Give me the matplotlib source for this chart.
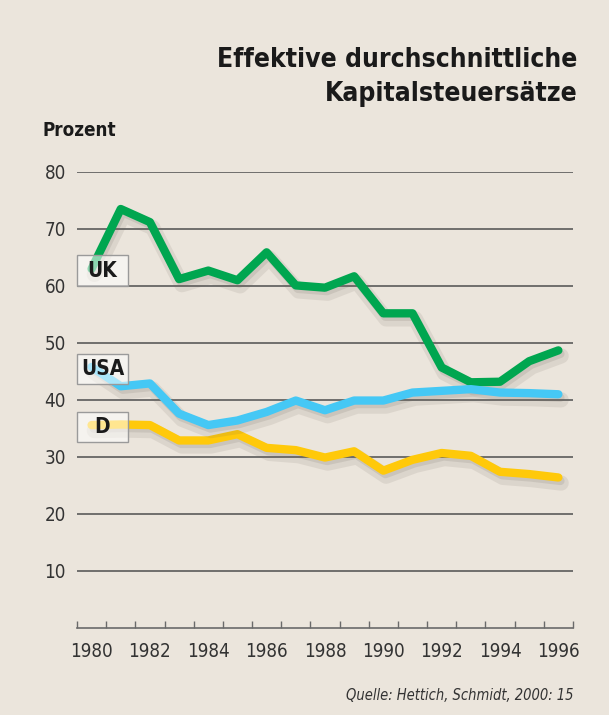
import matplotlib.pyplot as plt
import matplotlib.patheffects as pe
from matplotlib.patches import Rectangle

years = list(range(1980, 1997))
uk = [63.0, 73.5, 71.2, 61.2, 62.7, 61.0, 65.9, 60.1, 59.7, 61.7, 55.2, 55.2, 45.7, 43.1, 43.2, 46.8, 48.7]
usa = [45.8, 42.4, 42.9, 37.6, 35.6, 36.4, 37.9, 39.9, 38.2, 39.9, 39.9, 41.3, 41.6, 41.9, 41.3, 41.2, 41.0]
de = [35.6, 35.7, 35.6, 32.9, 32.9, 34.0, 31.6, 31.2, 29.9, 31.0, 27.6, 29.5, 30.7, 30.2, 27.4, 27.0, 26.4]
series_names = ['UK', 'USA', 'D']
series_colors = ['#00a650', '#45c8f5', '#ffc90a']
yticks = [10, 20, 30, 40, 50, 60, 70, 80]
xlabels = list(range(1980, 1997, 2))

bg = '#ebe5dc'
fam = 'DejaVu Sans'
cond = 'condensed'

fig = plt.figure(figsize=(6.09, 7.15), dpi=100)
fig.patch.set_facecolor(bg)
ax = fig.add_axes([0.1264, 0.1217, 0.8144, 0.6378])
ax.set_facecolor(bg)

for y in yticks:
    ax.axhline(y, color='#5a5a5a', lw=1.2, zorder=1)

# soft drop shadow under the lines
shadow = [pe.SimpleLineShadow(offset=(2, -4), shadow_color='#6d655c', alpha=0.12, linewidth=11),
          pe.SimpleLineShadow(offset=(1.5, -2.5), shadow_color='#6d655c', alpha=0.15),
          pe.Normal()]

# draw order: UK, D, USA
for vals, col, z in [(uk, series_colors[0], 3), (de, series_colors[2], 3), (usa, series_colors[1], 4)]:
    ax.plot(years, vals, color=col, lw=6, solid_capstyle='round', solid_joinstyle='round',
            zorder=z, path_effects=shadow, clip_on=False)

# label boxes at series start
for name, vals in zip(series_names, [uk, usa, de]):
    cy = vals[0] - 0.3
    ax.add_patch(Rectangle((1979.49, cy - 2.65), 1.77, 5.3, facecolor='white', alpha=0.55,
                           edgecolor='none', zorder=6, clip_on=False))
    ax.add_patch(Rectangle((1979.49, cy - 2.65), 1.77, 5.3, facecolor='none',
                           edgecolor='#9a9a9a', lw=1, zorder=7, clip_on=False))
    ax.text(1980.375, cy, name, ha='center', va='center', fontsize=15, fontweight='bold',
            family=fam, stretch=cond, color='#1a1a1a', zorder=8)

ax.set_xlim(1979.5, 1996.5)
ax.set_ylim(0, 80)
for s in ['top', 'right', 'left']:
    ax.spines[s].set_visible(False)
ax.spines['bottom'].set_color('#6a6a6a')
ax.spines['bottom'].set_linewidth(1.2)

ax.set_xticks(xlabels)
ax.set_xticklabels([str(x) for x in xlabels], family=fam, stretch=cond, fontsize=13.5, color='#333333')
ax.set_xticks([y + 0.5 for y in range(1979, 1997)], minor=True)
ax.tick_params(axis='x', which='major', length=0, pad=10)
ax.tick_params(axis='x', which='minor', direction='in', length=5, width=1, color='#6a6a6a')

ax.set_yticks(yticks)
ax.set_yticklabels([str(y) for y in yticks], family=fam, stretch=cond, fontsize=13.5, color='#333333')
ax.tick_params(axis='y', length=0, pad=8)

fig.text(0.948, 1 - 67 / 715, 'Effektive durchschnittliche', ha='right', va='baseline',
         fontsize=19, fontweight='bold', family=fam, stretch=cond, color='#1a1a1a')
fig.text(0.948, 1 - 101 / 715, 'Kapitalsteuersätze', ha='right', va='baseline',
         fontsize=19, fontweight='bold', family=fam, stretch=cond, color='#1a1a1a')
fig.text(43 / 609, 1 - 136 / 715, 'Prozent', ha='left', va='baseline',
         fontsize=13.5, fontweight='bold', family=fam, stretch=cond, color='#1a1a1a')
fig.text(573 / 609, 1 - 700 / 715, 'Quelle: Hettich, Schmidt, 2000: 15', ha='right', va='baseline',
         fontsize=10.5, style='italic', family=fam, stretch=cond, color='#333333')

fig.savefig('out.png', dpi=100, facecolor=bg)
